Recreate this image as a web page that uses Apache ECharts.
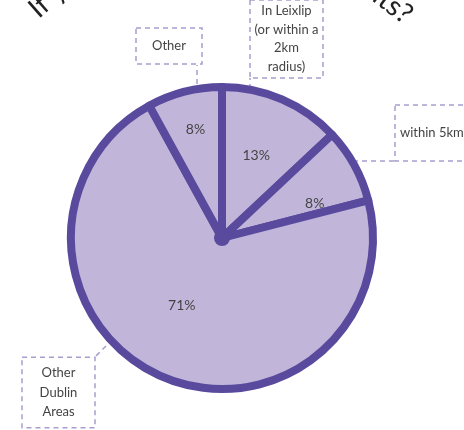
<!DOCTYPE html>
<html>
<head>
<meta charset="utf-8">
<script src="https://cdn.jsdelivr.net/npm/echarts@6/dist/echarts.min.js"></script>
<style>
  html, body { margin: 0; padding: 0; background: #fff; }
  #chart { width: 464px; height: 430px; }
</style>
</head>
<body>
<div id="chart"></div>
<script>
// data
const categories = ['In Leixlip\n(or within a\n2km\nradius)', 'within 5km', 'Other\nDublin\nAreas', 'Other'];
const shares = [13, 8, 71, 8];

// layout of the label boxes / leader lines (not data)
const pctNudge = [[3, -10], [24, 3], [-9, -5], [-7, -32]];
const boxes = [
  { x: 286.5, y: 39, w: 73, lh: 18.5, pad: [2, 0], align: 'center' },
  { x: 395, y: 133, w: 90, lh: 18, pad: [19, 5], align: 'left' },
  { x: 58.5, y: 392.5, w: 73, lh: 19.5, pad: [6, 0], align: 'center' },
  { x: 169, y: 46, w: 66, lh: 18, pad: [9, 0], align: 'center' }
];
const leaders = [
  [[250, 125], [250, 100], [250, 78]],
  [[335, 161], [365, 161], [395, 161]],
  [[106, 346], [100, 352], [95, 357]],
  [[197, 84], [197, 75], [197, 65]]
];

const FILL = '#c1b6d9';
const STROKE = '#5a4a9e';
const DASH = '#a99dd0';
const FONT = 'Lato';
const center = [222, 238];

const chart = echarts.init(document.getElementById('chart'));

chart.setOption({
  animation: false,
  graphic: [
    {
      type: 'text', x: 42, y: 23, rotation: 0.72,
      style: { text: 'If y', fontSize: 28, fontFamily: FONT, fill: '#222', align: 'left', verticalAlign: 'bottom' }
    },
    {
      type: 'text', x: 368, y: 4, rotation: -0.65,
      style: { text: 'its?', fontSize: 28, fontFamily: FONT, fill: '#222', align: 'left', verticalAlign: 'bottom' }
    }
  ],
  series: [
    {
      type: 'pie',
      center: center,
      radius: [0, 151],
      startAngle: 90,
      avoidLabelOverlap: false,
      silent: true,
      itemStyle: { color: FILL, borderColor: STROKE, borderWidth: 8 },
      label: {
        position: 'inside',
        formatter: '{c}%',
        fontFamily: FONT,
        fontSize: 14,
        color: '#444'
      },
      labelLayout: p => ({ dx: pctNudge[p.dataIndex][0], dy: pctNudge[p.dataIndex][1] }),
      data: categories.map((n, i) => ({ name: n, value: shares[i] }))
    },
    {
      type: 'pie',
      center: center,
      radius: [0, 151],
      startAngle: 90,
      avoidLabelOverlap: false,
      silent: true,
      itemStyle: { color: 'rgba(0,0,0,0)' },
      label: {
        position: 'outside',
        formatter: '{b}',
        fontFamily: FONT,
        fontSize: 13,
        color: '#444',
        borderColor: DASH,
        borderWidth: 1.5,
        borderType: [5, 4]
      },
      labelLine: {
        show: true,
        lineStyle: { color: DASH, width: 1.5, type: [5, 4] }
      },
      labelLayout: p => {
        const b = boxes[p.dataIndex];
        return {
          x: b.x, y: b.y, align: b.align, verticalAlign: 'middle',
          labelLinePoints: leaders[p.dataIndex]
        };
      },
      data: categories.map((n, i) => ({
        name: n,
        value: shares[i],
        label: {
          width: boxes[i].w,
          lineHeight: boxes[i].lh,
          padding: boxes[i].pad,
          align: boxes[i].align
        }
      }))
    },
    {
      type: 'pie',
      center: center,
      radius: [0, 8],
      silent: true,
      label: { show: false },
      labelLine: { show: false },
      itemStyle: { color: STROKE },
      data: [1]
    }
  ]
});
</script>
</body>
</html>
